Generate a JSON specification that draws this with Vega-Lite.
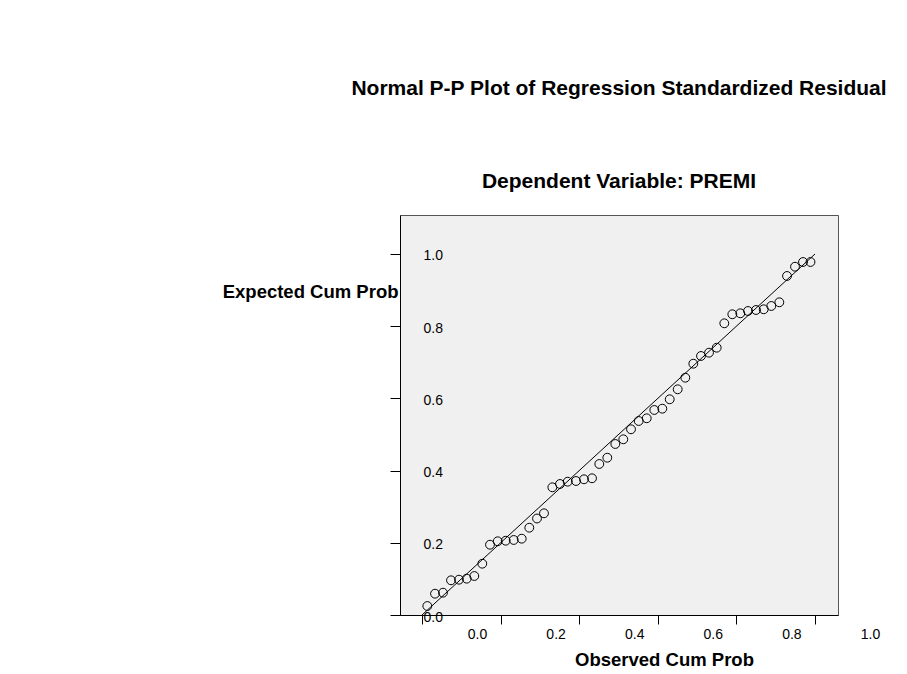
{
  "$schema": "https://vega.github.io/schema/vega-lite/v6.json",
  "width": 438,
  "height": 400,
  "autosize": {"type": "none"},
  "padding": {"left": 400, "top": 215, "right": 69, "bottom": 59},
  "background": "white",
  "title": {
    "text": "Normal P-P Plot of Regression Standardized Residual",
    "subtitle": "Dependent Variable: PREMI",
    "anchor": "middle",
    "frame": "group",
    "font": "Liberation Sans",
    "fontSize": 21,
    "fontWeight": "bold",
    "color": "black",
    "subtitleFont": "Liberation Sans",
    "subtitleFontSize": 21,
    "subtitleFontWeight": "bold",
    "subtitleColor": "black",
    "subtitlePadding": 72,
    "offset": 23
  },
  "datasets": {
    "points": [
      {"observed": 0.0135, "expected": 0.0249},
      {"observed": 0.0331, "expected": 0.0590},
      {"observed": 0.0534, "expected": 0.0618},
      {"observed": 0.0738, "expected": 0.0961},
      {"observed": 0.0941, "expected": 0.0978},
      {"observed": 0.1137, "expected": 0.1006},
      {"observed": 0.1331, "expected": 0.1080},
      {"observed": 0.1534, "expected": 0.1421},
      {"observed": 0.1730, "expected": 0.1947},
      {"observed": 0.1926, "expected": 0.2042},
      {"observed": 0.2130, "expected": 0.2058},
      {"observed": 0.2333, "expected": 0.2078},
      {"observed": 0.2537, "expected": 0.2114},
      {"observed": 0.2730, "expected": 0.2418},
      {"observed": 0.2926, "expected": 0.2673},
      {"observed": 0.3104, "expected": 0.2817},
      {"observed": 0.3316, "expected": 0.3537},
      {"observed": 0.3511, "expected": 0.3629},
      {"observed": 0.3707, "expected": 0.3693},
      {"observed": 0.3919, "expected": 0.3712},
      {"observed": 0.4122, "expected": 0.3759},
      {"observed": 0.4326, "expected": 0.3787},
      {"observed": 0.4511, "expected": 0.4183},
      {"observed": 0.4715, "expected": 0.4357},
      {"observed": 0.4919, "expected": 0.4737},
      {"observed": 0.5122, "expected": 0.4867},
      {"observed": 0.5318, "expected": 0.5144},
      {"observed": 0.5514, "expected": 0.5374},
      {"observed": 0.5718, "expected": 0.5449},
      {"observed": 0.5911, "expected": 0.5679},
      {"observed": 0.6115, "expected": 0.5715},
      {"observed": 0.6303, "expected": 0.5975},
      {"observed": 0.6506, "expected": 0.6252},
      {"observed": 0.6700, "expected": 0.6573},
      {"observed": 0.6903, "expected": 0.6961},
      {"observed": 0.7099, "expected": 0.7175},
      {"observed": 0.7303, "expected": 0.7266},
      {"observed": 0.7499, "expected": 0.7404},
      {"observed": 0.7692, "expected": 0.8080},
      {"observed": 0.7896, "expected": 0.8330},
      {"observed": 0.8099, "expected": 0.8357},
      {"observed": 0.8295, "expected": 0.8421},
      {"observed": 0.8499, "expected": 0.8449},
      {"observed": 0.8695, "expected": 0.8468},
      {"observed": 0.8888, "expected": 0.8560},
      {"observed": 0.9092, "expected": 0.8662},
      {"observed": 0.9288, "expected": 0.9391},
      {"observed": 0.9491, "expected": 0.9648},
      {"observed": 0.9695, "expected": 0.9778},
      {"observed": 0.9885, "expected": 0.9778}
    ],
    "diagonal": [
      {"observed": 0, "expected": 0},
      {"observed": 1, "expected": 1}
    ]
  },
  "layer": [
    {
      "data": {"name": "diagonal"},
      "mark": {"type": "line", "color": "black", "strokeWidth": 1},
      "encoding": {
        "x": {"field": "observed", "type": "quantitative"},
        "y": {"field": "expected", "type": "quantitative"}
      }
    },
    {
      "data": {"name": "points"},
      "mark": {"type": "point", "shape": "circle", "filled": false, "stroke": "black", "strokeWidth": 1, "size": 78, "opacity": 1},
      "encoding": {
        "x": {
          "field": "observed",
          "type": "quantitative",
          "scale": {"domain": [-0.056, 1.0585], "nice": false, "zero": false},
          "axis": {
            "title": "Observed Cum Prob",
            "values": [0, 0.2, 0.4, 0.6, 0.8, 1.0],
            "format": ".1f",
            "grid": false,
            "tickSize": 9,
            "tickColor": "black",
            "domainColor": "black",
            "labelOffset": 55,
            "labelPadding": 3,
            "labelFlush": false,
            "labelFont": "Liberation Sans",
            "labelFontSize": 14,
            "labelColor": "black",
            "titleFont": "Liberation Sans",
            "titleFontSize": 18.5,
            "titleFontWeight": "bold",
            "titleColor": "black",
            "titleAlign": "center",
            "titleBaseline": "middle",
            "titleX": 264,
            "titleY": 44
          }
        },
        "y": {
          "field": "expected",
          "type": "quantitative",
          "scale": {"domain": [0, 1.108], "nice": false, "zero": false},
          "axis": {
            "title": "Expected Cum Prob",
            "values": [0, 0.2, 0.4, 0.6, 0.8, 1.0],
            "format": ".1f",
            "grid": false,
            "tickSize": 10,
            "tickColor": "black",
            "domainColor": "black",
            "labelAlign": "left",
            "labelPadding": -33,
            "labelOffset": 2,
            "labelFlush": false,
            "labelFont": "Liberation Sans",
            "labelFontSize": 14,
            "labelColor": "black",
            "titleFont": "Liberation Sans",
            "titleFontSize": 18.5,
            "titleFontWeight": "bold",
            "titleColor": "black",
            "titleAngle": 0,
            "titleAlign": "right",
            "titleBaseline": "middle",
            "titleX": -2,
            "titleY": 76
          }
        }
      }
    }
  ],
  "config": {
    "view": {"fill": "#f0f0f0", "stroke": "#555555", "strokeWidth": 1}
  }
}
